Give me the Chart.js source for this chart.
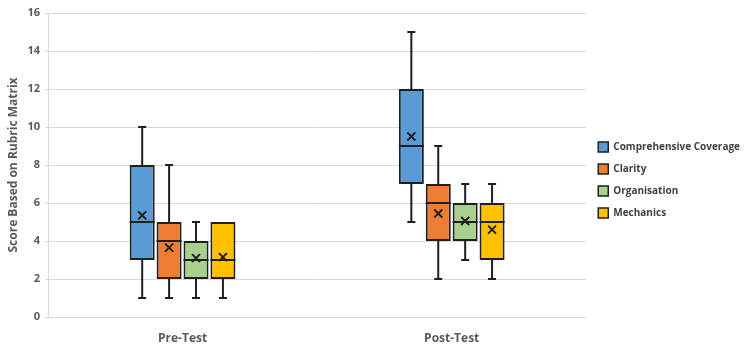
<!DOCTYPE html>
<html>
<head>
<meta charset="utf-8">
<script src="https://cdn.jsdelivr.net/npm/chart.js@4.4.1/dist/chart.umd.min.js"></script>
<style>
html,body{margin:0;padding:0;background:#fff;}
#wrap{width:750px;height:355px;position:relative;}
</style>
</head>
<body>
<div id="wrap"><canvas id="c" width="750" height="355"></canvas></div>
<script>
const categories = ['Pre-Test', 'Post-Test'];
const seriesNames = ['Comprehensive Coverage', 'Clarity', 'Organisation', 'Mechanics'];
const seriesColors = ['#5B9BD5', '#ED7D31', '#A9D18E', '#FFC000'];
// five-number summaries per category: [min, q1, median, q3, max]
const coverageStats = [[1, 3, 5, 8, 10], [5, 7, 9, 12, 15]];
const clarityStats = [[1, 2, 4, 5, 8], [2, 4, 6, 7, 9]];
const organisationStats = [[1, 2, 3, 4, 5], [3, 4, 5, 6, 7]];
const mechanicsStats = [[1, 2, 3, 5, 5], [2, 3, 5, 6, 7]];
const coverageMeans = [5.35, 9.5];
const clarityMeans = [3.65, 5.45];
const organisationMeans = [3.1, 5.05];
const mechanicsMeans = [3.15, 4.6];
const yTicks = [0, 2, 4, 6, 8, 10, 12, 14, 16];

const allStats = [coverageStats, clarityStats, organisationStats, mechanicsStats];
const allMeans = [coverageMeans, clarityMeans, organisationMeans, mechanicsMeans];

const FONT = "'Open Sans', 'DejaVu Sans', sans-serif";
const TEXT = '#595959';
const EDGE = '#1f1f1f';

const datasets = seriesNames.map((name, i) => ({
  label: name,
  data: allStats[i].map(s => [s[1], s[3]]),
  stats: allStats[i],
  means: allMeans[i],
  backgroundColor: seriesColors[i],
  borderColor: EDGE,
  borderWidth: 2,
  borderSkipped: false,
  barPercentage: 0.93,
  categoryPercentage: 0.4
}));

const boxPlotPlugin = {
  id: 'boxWhiskers',
  afterDatasetsDraw(chart) {
    const ctx = chart.ctx;
    const y = chart.scales.y;
    ctx.save();
    ctx.strokeStyle = EDGE;
    ctx.lineWidth = 2;
    chart.data.datasets.forEach((ds, di) => {
      const meta = chart.getDatasetMeta(di);
      meta.data.forEach((bar, j) => {
        const s = ds.stats[j];
        const x = bar.x;
        const half = bar.width / 2;
        const cap = 4;
        const yMin = y.getPixelForValue(s[0]);
        const yQ1 = y.getPixelForValue(s[1]);
        const yMed = y.getPixelForValue(s[2]);
        const yQ3 = y.getPixelForValue(s[3]);
        const yMax = y.getPixelForValue(s[4]);
        ctx.beginPath();
        if (s[0] < s[1]) {
          ctx.moveTo(x, yQ1); ctx.lineTo(x, yMin);
          ctx.moveTo(x - cap, yMin); ctx.lineTo(x + cap, yMin);
        }
        if (s[4] > s[3]) {
          ctx.moveTo(x, yQ3); ctx.lineTo(x, yMax);
          ctx.moveTo(x - cap, yMax); ctx.lineTo(x + cap, yMax);
        }
        ctx.moveTo(x - half, yMed); ctx.lineTo(x + half, yMed);
        ctx.stroke();
        const ym = y.getPixelForValue(ds.means[j]);
        const r = 4;
        ctx.beginPath();
        ctx.moveTo(x - r, ym - r); ctx.lineTo(x + r, ym + r);
        ctx.moveTo(x + r, ym - r); ctx.lineTo(x - r, ym + r);
        ctx.stroke();
      });
    });
    ctx.restore();
  }
};

new Chart(document.getElementById('c'), {
  type: 'bar',
  data: { labels: categories, datasets: datasets },
  plugins: [boxPlotPlugin],
  options: {
    responsive: false,
    animation: false,
    layout: { padding: { top: 13, right: 0, left: 0, bottom: 0 } },
    plugins: {
      tooltip: { enabled: false },
      legend: {
        position: 'right',
        align: 'start',
        title: { display: true, text: ' ', padding: { top: 0, bottom: 105 }, font: { size: 10 } },
        labels: {
          boxWidth: 10,
          boxHeight: 10,
          padding: 12,
          color: '#404040',
          font: { family: FONT, size: 10, weight: 'bold' },
          generateLabels(chart) {
            return chart.data.datasets.map((ds, i) => ({
              text: ds.label,
              fillStyle: ds.backgroundColor,
              strokeStyle: EDGE,
              lineWidth: 1.5,
              fontColor: '#404040',
              datasetIndex: i,
              hidden: false
            }));
          }
        }
      }
    },
    scales: {
      x: {
        grid: { display: false },
        border: { display: false },
        ticks: { color: TEXT, padding: 6, font: { family: FONT, size: 12, weight: 'bold' } },
        afterFit(scale) { scale.height = 38; }
      },
      y: {
        min: 0,
        max: 16,
        afterBuildTicks(scale) { scale.ticks = yTicks.map(v => ({ value: v })); },
        grid: { color: '#d9d9d9', lineWidth: 1, tickLength: 3 },
        border: { display: true, color: '#d9d9d9', width: 1 },
        ticks: { color: TEXT, padding: 5, font: { family: FONT, size: 11, weight: 'bold' } },
        title: {
          display: true,
          text: 'Score Based on Rubric Matrix',
          color: TEXT,
          padding: { top: 6, bottom: 2 },
          font: { family: FONT, size: 12, weight: 'bold' }
        },
        afterFit(scale) { scale.width = 48; }
      }
    }
  }
});
</script>
</body>
</html>
